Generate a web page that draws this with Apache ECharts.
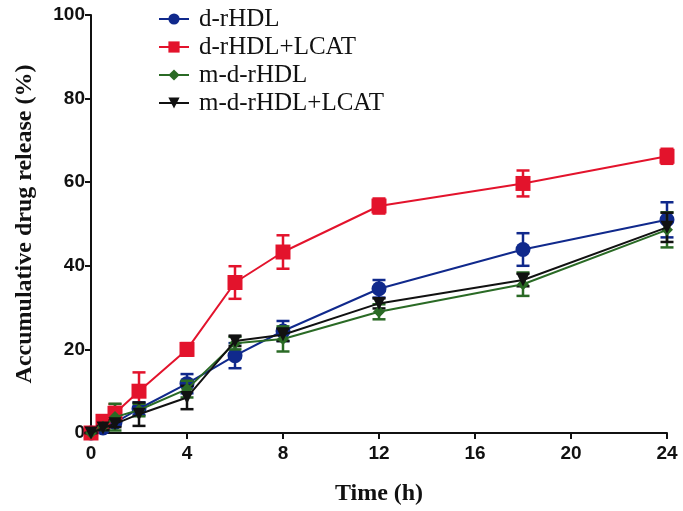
<!DOCTYPE html>
<html><head><meta charset="utf-8">
<script src="https://cdn.jsdelivr.net/npm/echarts@6/dist/echarts.min.js"></script>
<style>html,body{margin:0;padding:0;background:#fff}#c{width:683px;height:511px}</style>
</head><body><div id="c"></div>
<script>
var times = [0, 0.5, 1, 2, 4, 6, 8, 12, 18, 24];
var names = ['d-rHDL', 'd-rHDL+LCAT', 'm-d-rHDL', 'm-d-rHDL+LCAT'];
var dRHDL      = [0, 1.2, 2.5, 5.8, 11.8, 18.5, 24.4, 34.5, 43.9, 51.0];
var dRHDL_err  = [0, 0.5, 0.8, 1.5, 2.3, 3.0, 2.4, 2.1, 3.9, 4.2];
var dRHDLL     = [0, 2.8, 4.7, 10.0, 20.0, 36.0, 43.3, 54.3, 59.7, 66.2];
var dRHDLL_err = [0, 0.8, 2.2, 4.5, 1.5, 3.9, 4.0, 1.8, 3.1, 1.8];
var mRHDL      = [0, 1.5, 3.8, 5.5, 10.5, 21.5, 22.5, 29.0, 35.6, 48.6];
var mRHDL_err  = [0, 0.8, 3.2, 1.5, 2.0, 1.5, 3.0, 1.8, 2.8, 4.2];
var mRHDLL     = [0, 1.2, 2.2, 4.5, 8.5, 22.0, 23.5, 31.0, 36.6, 49.2];
var mRHDLL_err = [0, 0.5, 0.8, 2.8, 2.8, 1.2, 1.5, 1.2, 1.5, 3.5];
var xTicks = [0, 4, 8, 12, 16, 20, 24];
var yTicks = [0, 20, 40, 60, 80, 100];

var colors = ['#10298c', '#e3132c', '#2a6a25', '#111111'];
var symbols = ['circle', 'rect', 'diamond', 'path://M0,0 L10,0 L5,10 Z'];
var sizes = [15, 15, 12, 13];
var vals = [dRHDL, dRHDLL, mRHDL, mRHDLL];
var errs = [dRHDL_err, dRHDLL_err, mRHDL_err, mRHDLL_err];

var series = [];
for (var k = 0; k < 4; k++) {
  (function(k){
    var errData = times.map(function(t, i){ return [t, vals[k][i] - errs[k][i], vals[k][i] + errs[k][i]]; });
    series.push({
      type: 'custom', name: names[k] + '_err', data: errData, z: 2 + k,
      renderItem: function(params, api){
        var p1 = api.coord([api.value(0), api.value(1)]);
        var p2 = api.coord([api.value(0), api.value(2)]);
        var w = 6.5;
        var st = {stroke: colors[k], lineWidth: 2.5};
        return {type: 'group', children: [
          {type: 'line', shape: {x1: p1[0], y1: p1[1], x2: p2[0], y2: p2[1]}, style: st},
          {type: 'line', shape: {x1: p1[0]-w, y1: p1[1], x2: p1[0]+w, y2: p1[1]}, style: st},
          {type: 'line', shape: {x1: p2[0]-w, y1: p2[1], x2: p2[0]+w, y2: p2[1]}, style: st}
        ]};
      },
      silent: true
    });
    series.push({
      type: 'line', name: names[k], z: 3 + k,
      data: times.map(function(t, i){ return [t, vals[k][i]]; }),
      symbol: symbols[k], symbolSize: sizes[k], showAllSymbol: true,
      lineStyle: {color: colors[k], width: 2},
      itemStyle: {color: colors[k], borderColor: colors[k], borderWidth: 0, opacity: 1},
      animation: false
    });
  })(k);
}

var chart = echarts.init(document.getElementById('c'));
chart.setOption({
  animation: false,
  backgroundColor: '#fff',
  grid: {left: 91, right: 16, top: 15, bottom: 78, containLabel: false},
  legend: {
    data: names, orient: 'vertical', left: 153, top: 1,
    itemWidth: 30, itemHeight: 14, itemGap: 2,
    textStyle: {fontFamily: 'Liberation Serif', fontSize: 25, lineHeight: 26, color: '#111', padding: [0, 0, 0, 5]}
  },
  xAxis: {
    type: 'value', min: 0, max: 24, interval: 4,
    name: 'Time (h)', nameLocation: 'middle', nameGap: 49,
    nameTextStyle: {fontFamily: 'Liberation Serif', fontWeight: 'bold', fontSize: 24, color: '#111'},
    axisLine: {show: true, onZero: false, lineStyle: {color: '#111', width: 2}},
    axisTick: {show: true, length: 6, lineStyle: {color: '#111', width: 2}},
    axisLabel: {fontFamily: 'Liberation Sans', fontWeight: 'bold', fontSize: 19, color: '#111', margin: 11,
      formatter: function(v){ return xTicks.indexOf(v) >= 0 ? String(v) : ''; }},
    splitLine: {show: false}
  },
  yAxis: {
    type: 'value', min: 0, max: 100, interval: 20,
    name: 'Accumulative drug release (%)', nameLocation: 'middle', nameGap: 54,
    nameTextStyle: {fontFamily: 'Liberation Serif', fontWeight: 'bold', fontSize: 24, color: '#111'},
    axisLine: {show: true, onZero: false, lineStyle: {color: '#111', width: 2}},
    axisTick: {show: true, length: 6, lineStyle: {color: '#111', width: 2}},
    axisLabel: {fontFamily: 'Liberation Sans', fontWeight: 'bold', fontSize: 19, color: '#111', margin: 6,
      formatter: function(v){ return yTicks.indexOf(v) >= 0 ? String(v) : ''; }},
    splitLine: {show: false}
  },
  series: series
});
</script></body></html>
